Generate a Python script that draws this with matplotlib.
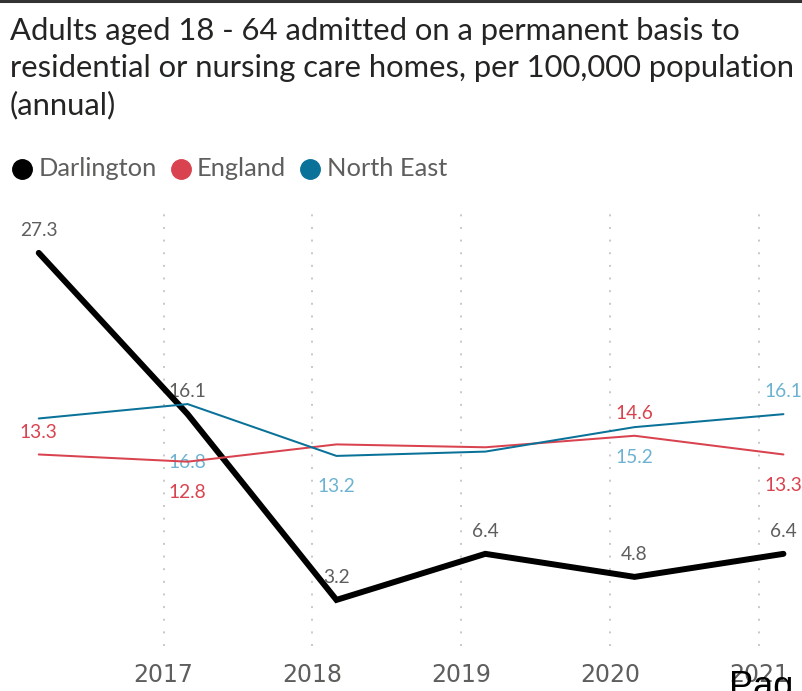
import pandas as pd
import matplotlib.pyplot as plt
import matplotlib.dates as mdates
from matplotlib.lines import Line2D

# Admissions per 100,000 population, adults 18-64
years = pd.to_datetime(["2016-03-01", "2017-03-01", "2018-03-01",
                        "2019-03-01", "2020-03-01", "2021-03-01"])
tick_years = pd.to_datetime(["2017-01-01", "2018-01-01", "2019-01-01",
                             "2020-01-01", "2021-01-01"])
darlington = [27.3, 16.1, 3.2, 6.4, 4.8, 6.4]
england = [13.3, 12.8, 14.0, 13.8, 14.6, 13.3]
north_east = [15.8, 16.8, 13.2, 13.5, 15.2, 16.1]

# which points get a value label, and on which side
darlington_lbl = ["above", "above", "above", "above", "above", "above"]
england_lbl = ["above", "below", None, None, "above", "below"]
north_east_lbl = [None, "far", "below", None, "below", "above"]

series = [
    ("Darlington", darlington, darlington_lbl, "#000000", "#605E5C", 4.3),
    ("England", england, england_lbl, "#D9434F", "#D9434F", 1.45),
    ("North East", north_east, north_east_lbl, "#0A7299", "#6DB3D1", 1.45),
]

plt.rcParams["font.family"] = ["Lato", "DejaVu Sans"]

fig = plt.figure(figsize=(8.03, 6.91), dpi=100)
W, H = 803, 691
ax = fig.add_axes([0, (H - 646) / H, 1, 432 / H])

offsets = {"above": 16, "below": -22, "far": -42}
for name, vals, lbls, col, lblcol, lw in series:
    ax.plot(years, vals, color=col, lw=lw, solid_capstyle="round",
            solid_joinstyle="miter", zorder=3)
    for x, v, pos in zip(years, vals, lbls):
        if pos is None:
            continue
        ax.annotate(f"{v:.1f}", (x, v), xytext=(0, offsets[pos]),
                    textcoords="offset points", ha="center", va="center",
                    fontsize=13.8, color=lblcol, zorder=2)

ax.set_ylim(0, 30)
ax.set_xlim(pd.Timestamp("2015-11-27"), pd.Timestamp("2021-04-18"))
ax.set_xticks(tick_years)
ax.xaxis.set_major_formatter(mdates.DateFormatter("%Y"))
ax.set_yticks([])
ax.tick_params(axis="x", length=0, pad=12, labelsize=17, labelcolor="#605E5C")
for lab in ax.get_xticklabels():
    lab.set_fontfamily(["Liberation Sans Narrow", "DejaVu Sans"])
ax.grid(axis="x", color="#C8C8C8", lw=1.4, linestyle=(0, (1, 5.5)))
for s in ax.spines.values():
    s.set_visible(False)

# title
fig.text(10 / W, 1 - 17 / H,
         "Adults aged 18 - 64 admitted on a permanent basis to\n"
         "residential or nursing care homes, per 100,000 population\n"
         "(annual)",
         ha="left", va="top", fontsize=22.3, color="#252423", linespacing=1.38)

# legend
leg_y = 1 - 169 / H
for (name, _, _, col, _, _), mx, tx in zip(series, [22, 181, 310], [39, 197, 327]):
    fig.add_artist(Line2D([mx / W], [leg_y], marker="o", markersize=14,
                          color=col, transform=fig.transFigure))
    fig.text(tx / W, leg_y, name, ha="left", va="center", fontsize=18.3,
             color="#605E5C")

# frame line along the top edge
fig.add_artist(Line2D([0, 1], [1 - 1.2 / H, 1 - 1.2 / H], color="#333333", lw=2.2,
                      transform=fig.transFigure))

fig.text(729 / W, 1 - 670 / H, "Pag", ha="left", va="top", fontsize=26,
         color="black", family=["Liberation Sans", "DejaVu Sans"])

fig.savefig("out.png", dpi=100)
